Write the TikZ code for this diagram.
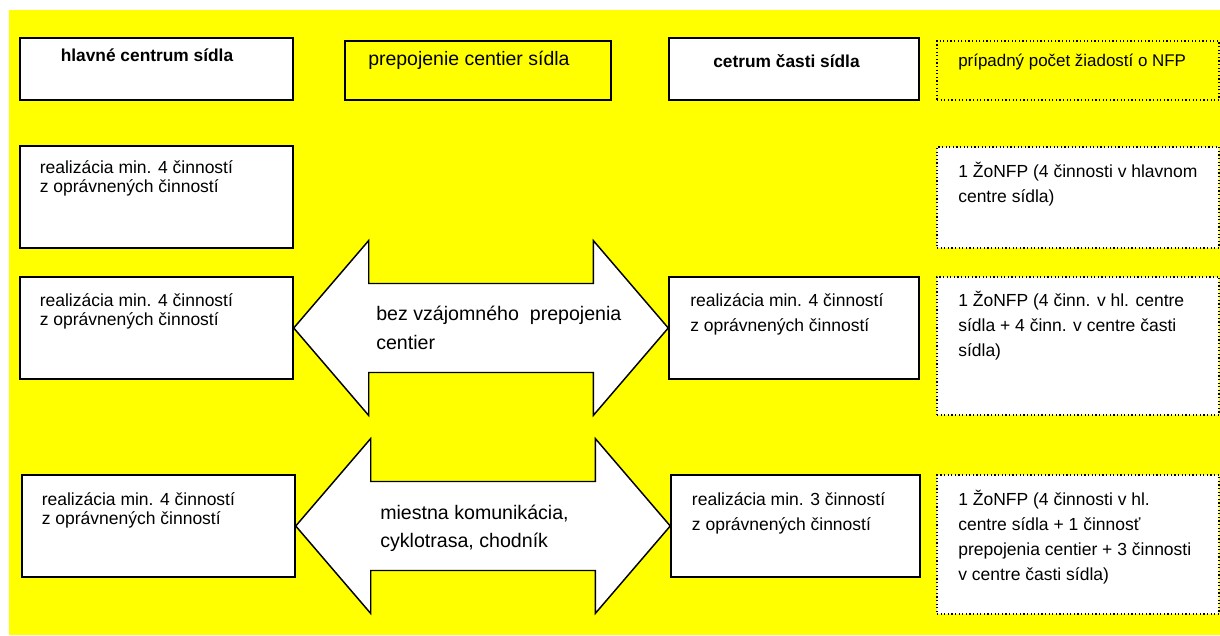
\documentclass[tikz,border=0pt]{standalone}
\usepackage{fontspec}
\setmainfont{Liberation Sans}
\usetikzlibrary{calc,fit}
\definecolor{bgyel}{RGB}{255,255,0}
\newcommand\myLinesII[2]{\vtop{\hbox{#1}\hbox{#2}}}
\newcommand\myLinesIII[3]{\vtop{\hbox{#1}\hbox{#2}\hbox{#3}}}
\newcommand\myLinesIV[4]{\vtop{\hbox{#1}\hbox{#2}\hbox{#3}\hbox{#4}}}
\begin{document}
\begin{tikzpicture}[x=0.75pt,y=-0.75pt,
  box/.style={draw=black, line width=1.1pt, fill=white, inner sep=0pt},
  ybox/.style={box, fill=bgyel},
  dbox/.style={draw=black, line width=0.9pt, dash pattern=on 0.9pt off 1.8pt, fill=white, inner sep=0pt},
  ydbox/.style={dbox, fill=bgyel},
  txt/.style={anchor=base west, inner sep=0pt, font=\fontsize{13.125}{14.25}\selectfont},
  txtw/.style={anchor=base west, inner sep=0pt, font=\fontsize{13.125}{18.75}\selectfont},
  hdr/.style={anchor=base west, inner sep=0pt, font=\bfseries\fontsize{13}{15}\selectfont},
  big/.style={anchor=base west, inner sep=0pt, font=\fontsize{14.7}{21.4}\selectfont},
  dbl/.style={draw=black, line width=1.1pt, fill=white, line join=miter}
]
\useasboundingbox (0,0) rectangle (1220,635);
\fill[bgyel] (9,10) rectangle (1220,635);

% header row
\node[box,   fit={(20,38) (293,100)}]   (B1) {};
\node[ybox,  fit={(345,41) (611,100)}]  (B2) {};
\node[box,   fit={(669,38) (919,100)}]  (B3) {};
\node[ydbox, fit={(937,41) (1219,100)}] (B4) {};
\node[hdr] (tB1) at (60.5,61) {hlavné centrum sídla};
\node[anchor=base west, inner sep=0pt, font=\fontsize{14.6}{17}\selectfont] (tB2) at (368,65) {prepojenie centier sídla};
\node[hdr] (tB3) at (713,68) {cetrum časti sídla};
\node[anchor=base west, inner sep=0pt, font=\fontsize{12.7}{15}\selectfont] (tB4) at (958,67) {prípadný počet žiadostí o NFP};

% row 2
\node[box,  fit={(20,146) (293,248)}]   (L2) {};
\node[dbox, fit={(937,147) (1219,248)}] (R2) {};
\node[txt]  (tL2) at (39.5,173) {\myLinesII{realizácia min. 4 činností}{z oprávnených činností}};
\node[txtw] (tR2) at (958,177.7) {\myLinesII{1 ŽoNFP (4 činnosti v hlavnom}{centre sídla)}};

% row 3
\node[box,  fit={(20,277) (293,379)}]   (L3) {};
\node[box,  fit={(669,277) (919,379)}]  (M3) {};
\node[dbox, fit={(937,277) (1219,415)}] (R3) {};
\draw[dbl] (L3.east) -- ++(75,-87.5) -- ++(0,43) -- ($(M3.west)+(-75,-44.5)$) -- ++(0,-43)
  -- (M3.west) -- ++(-75,87.5) -- ++(0,-43) -- ($(L3.east)+(75,44.5)$) -- ++(0,43) -- cycle;
\node[txt]  (tL3) at (39.5,306) {\myLinesII{realizácia min. 4 činností}{z oprávnených činností}};
\node[txtw] (tM3) at (690,306.7) {\myLinesII{realizácia min. 4 činností}{z oprávnených činností}};
\node[txtw] (tR3) at (958,306.7) {\myLinesIII{1 ŽoNFP (4 činn. v hl. centre}{sídla + 4 činn. v centre časti}{sídla)}};
\node[big]  (tA3) at (376,320.7) {\myLinesII{bez vzájomného\ \ prepojenia}{centier}};

% row 4
\node[box,  fit={(22,475) (295,577)}]   (L4) {};
\node[box,  fit={(671,475) (920,577)}]  (M4) {};
\node[dbox, fit={(937,475) (1219,614)}] (R4) {};
\draw[dbl] (L4.east) -- ++(75,-87.5) -- ++(0,43) -- ($(M4.west)+(-75,-44.5)$) -- ++(0,-43)
  -- (M4.west) -- ++(-75,87.5) -- ++(0,-43) -- ($(L4.east)+(75,44.5)$) -- ++(0,43) -- cycle;
\node[txt]  (tL4) at (41.5,505) {\myLinesII{realizácia min. 4 činností}{z oprávnených činností}};
\node[txtw] (tM4) at (691.7,505) {\myLinesII{realizácia min. 3 činností}{z oprávnených činností}};
\node[txtw] (tR4) at (958,505) {\myLinesIV{1 ŽoNFP (4 činnosti v hl.}{centre sídla + 1 činnosť}{prepojenia centier + 3 činnosti}{v centre časti sídla)}};
\node[big]  (tA4) at (380,519) {\myLinesII{miestna komunikácia,}{cyklotrasa, chodník}};
\end{tikzpicture}
\end{document}
